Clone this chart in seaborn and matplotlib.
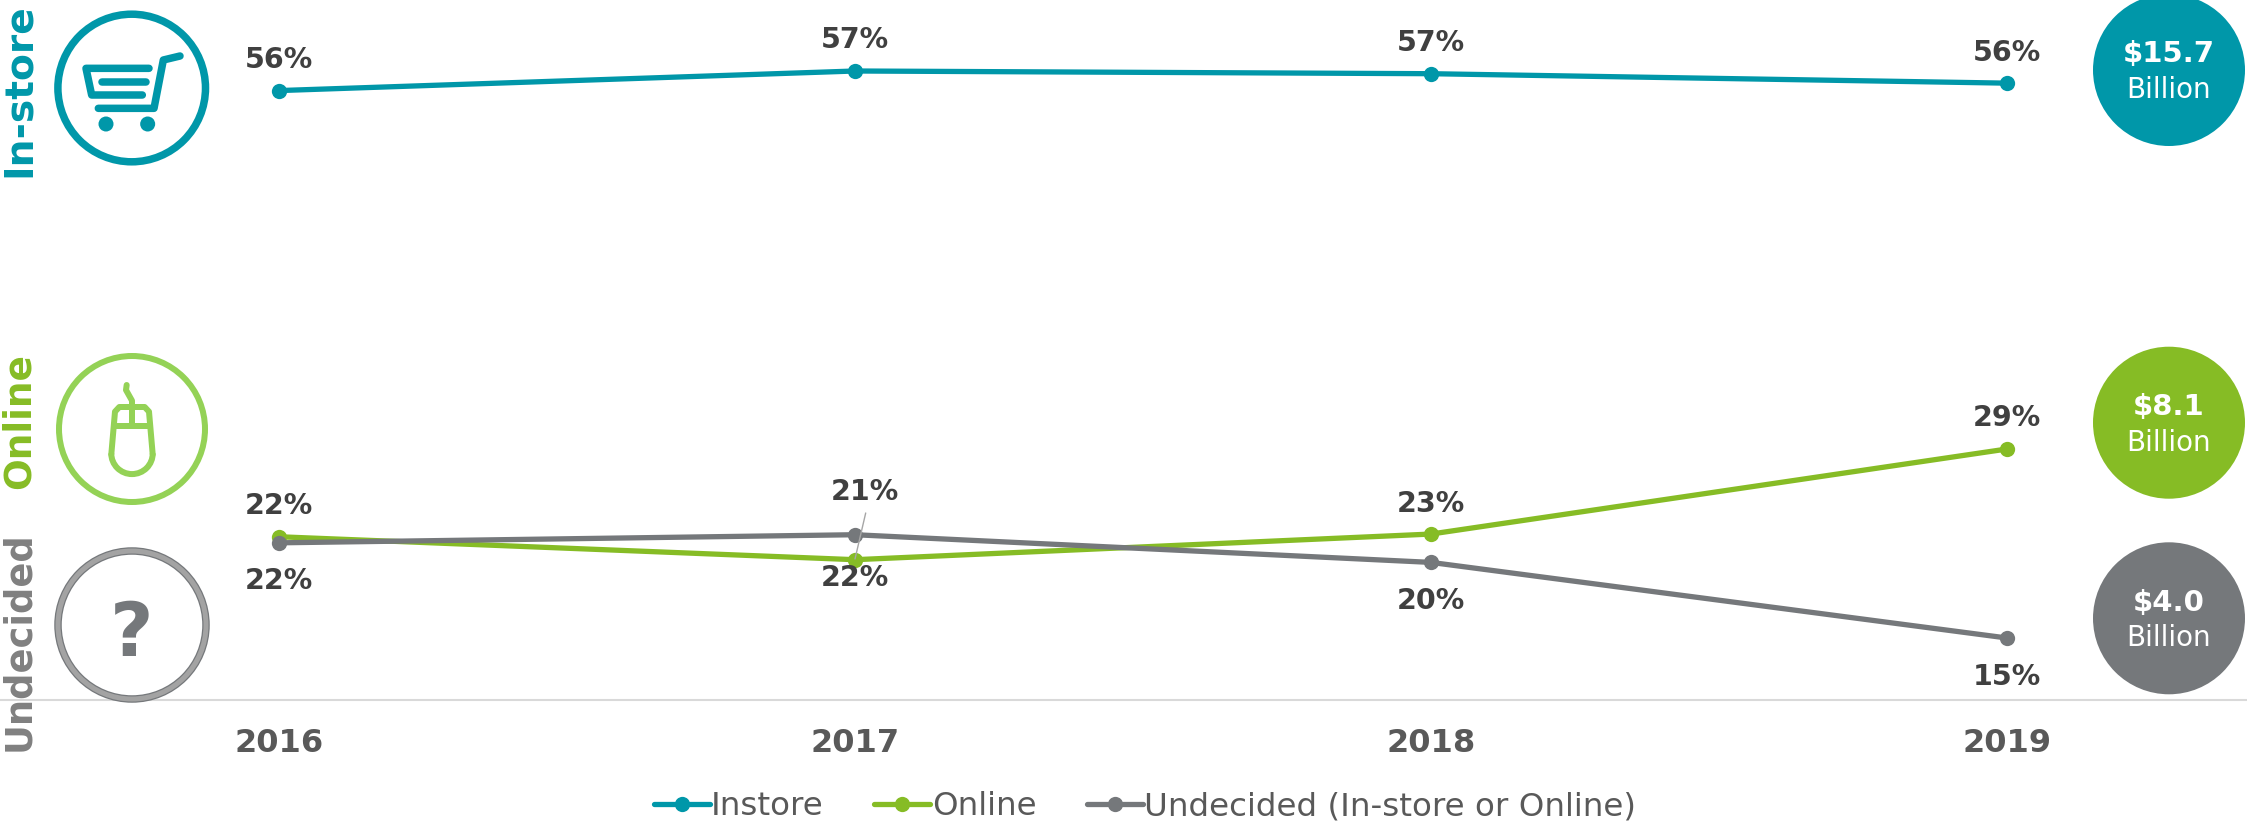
import matplotlib
matplotlib.use("Agg")
import matplotlib.pyplot as plt
from matplotlib.patches import Circle, Arc
import numpy as np
import pandas as pd
import seaborn as sns

years = [2016, 2017, 2018, 2019]
instore = [55.55, 57.0, 56.8, 56.1]
online = [22.5, 20.8, 22.7, 29.0]
undecided = [22.05, 22.65, 20.6, 15.0]
instore_labels = ["56%", "57%", "57%", "56%"]
online_labels = ["22%", "22%", "23%", "29%"]
undecided_labels = ["22%", "21%", "20%", "15%"]
series_names = ["Instore", "Online", "Undecided (In-store or Online)"]
totals = ["$15.7", "$8.1", "$4.0"]
side_labels = ["In-store", "Online", "Undecided"]

TEAL, GREEN, GRAY = "#0097A9", "#86BC25", "#75787B"
LIGHT_GREEN = "#94D256"
DARK, MID = "#404040", "#595959"

W, H = 2247, 822
sns.set_theme(style="white")
plt.rcParams["font.family"] = ["DejaVu Sans"]

df = pd.DataFrame({
    "year": years * 3,
    "share": instore + online + undecided,
    "series": [s for s in series_names for _ in years],
})

fig = plt.figure(figsize=(W / 100, H / 100), dpi=100, facecolor="white")
ax = fig.add_axes([0, (H - 700) / H, 1, 700 / H])
sns.lineplot(data=df, x="year", y="share", hue="series", hue_order=series_names,
             palette=[TEAL, GREEN, GRAY], marker="o", markersize=11,
             markeredgewidth=0, linewidth=3.8, errorbar=None, ax=ax)

px_per_year = 576
ax.set_xlim(2016 - 279 / px_per_year, 2016 + (W - 279) / px_per_year)
px_per_pct = 13.5
ax.set_ylim(15 - 62 / px_per_pct, 15 + 638 / px_per_pct)
ax.set_xlabel("")
ax.set_ylabel("")
ax.set_yticks([])
ax.set_xticks(years)
ax.set_xticklabels([str(y) for y in years], fontsize=23, fontweight="bold", color=MID)
ax.tick_params(axis="x", length=0, pad=20)
sns.despine(ax=ax, left=True)
ax.spines["bottom"].set_color("#D9D9D9")
ax.spines["bottom"].set_linewidth(1.5)


def label(x, y, txt, dy, dx=0):
    ax.annotate(txt, xy=(x, y), xytext=(dx, dy), textcoords="offset pixels",
                ha="center", va="center", fontsize=20.5, fontweight="bold", color=DARK)


inst_dy = [30.5, 31, 31, 30]
on_dy = [31, -18, 30, 31]
und_dy = [-38, 42.5, -39, -39]
und_dx = [0, 10, 0, 0]
for i, y in enumerate(years):
    label(y, instore[i], instore_labels[i], inst_dy[i])
    label(y, online[i], online_labels[i], on_dy[i])
    label(y, undecided[i], undecided_labels[i], und_dy[i], und_dx[i])

handles, labels = ax.get_legend_handles_labels()
leg = ax.legend(handles, labels, loc="center", ncols=3, frameon=False,
                bbox_to_anchor=(1145 / W, (H - 806.5) / H), bbox_transform=fig.transFigure,
                fontsize=23.4, handlelength=1.72, handletextpad=0.05, columnspacing=1.55,
                labelcolor=MID, borderpad=0, borderaxespad=0)
for h in leg.get_lines():
    h.set_solid_capstyle("round")

# decoration layer in pixel units
ov = fig.add_axes([0, 0, 1, 1], facecolor="none")
ov.set_xlim(0, W)
ov.set_ylim(H, 0)
ov.axis("off")
lw = lambda px: px * 0.72

# leader line
ov.plot([865.7, 855], [513, 559], color="#A6A6A6", lw=1)

# left ring icons
ov.add_patch(Circle((131.7, 88), 73.8, fc="white", ec=TEAL, lw=lw(7.5)))
ov.add_patch(Circle((132, 429), 73, fc="white", ec=LIGHT_GREEN, lw=lw(6)))
ov.add_patch(Circle((132, 625), 74, fc="white", ec=GRAY, lw=lw(7.5)))
ov.add_patch(Circle((132, 625), 74, fc="none", ec="#A3A3A3", lw=lw(5)))
ov.text(132, 635, "?", fontsize=54, fontweight="bold", color=GRAY, ha="center", va="center")

# cart
z1 = lambda pts: (np.array(pts, float) / 3)
cart_paths = [
    [(540, 168), (490, 180), (462, 325), (295, 325)],
    [(447, 205), (258, 205), (275, 285), (427, 285)],
    [(305, 245), (437, 245)],
]
for p in cart_paths:
    a = z1(p)
    ov.plot(a[:, 0], a[:, 1], color=TEAL, lw=lw(7.5), solid_capstyle="round", solid_joinstyle="round")
for cx in (318, 443):
    ov.add_patch(Circle((cx / 3, 372 / 3), 7.5, fc=TEAL, ec="none"))

# mouse
z2 = lambda pts: (np.array(pts, float) / 3 + np.array([0, 330]))
mouse_paths = [
    [(334, 372), (345, 245), (358, 231), (434, 231), (447, 245), (458, 372)],
    [(345, 288), (447, 288)],
    [(396, 231), (396, 288)],
    [(380, 165), (378, 180), (396, 212), (396, 231)],
]
for p in mouse_paths:
    a = z2(p)
    ov.plot(a[:, 0], a[:, 1], color=LIGHT_GREEN, lw=lw(6), solid_capstyle="round", solid_joinstyle="round")
ov.add_patch(Arc((132, 330 + 370 / 3), 41.5, 41.5, theta1=0, theta2=180, color=LIGHT_GREEN, lw=lw(6)))

# rotated side labels
for txt, c, cy, fs in zip(side_labels, [TEAL, GREEN, "#808080"], [90.5, 421, 641], [28.3, 26.9, 26.5]):
    ov.text(19, cy, txt, rotation=90, ha="center", va="center", fontsize=fs,
            fontweight="bold", color=c)

# right bubbles
for txt, c, cy, ty1, ty2 in zip(totals, [TEAL, GREEN, GRAY], [70, 422.7, 618.3],
                                [53.5, 406.5, 602.5], [90, 443, 638]):
    ov.add_patch(Circle((2169, cy), 76, fc=c, ec="none"))
    ov.text(2169, ty1, txt, fontsize=21, fontweight="bold", color="white", ha="center", va="center")
    ov.text(2169, ty2, "Billion", fontsize=20, color="white", ha="center", va="center")

fig.savefig("out.png", dpi=100)
